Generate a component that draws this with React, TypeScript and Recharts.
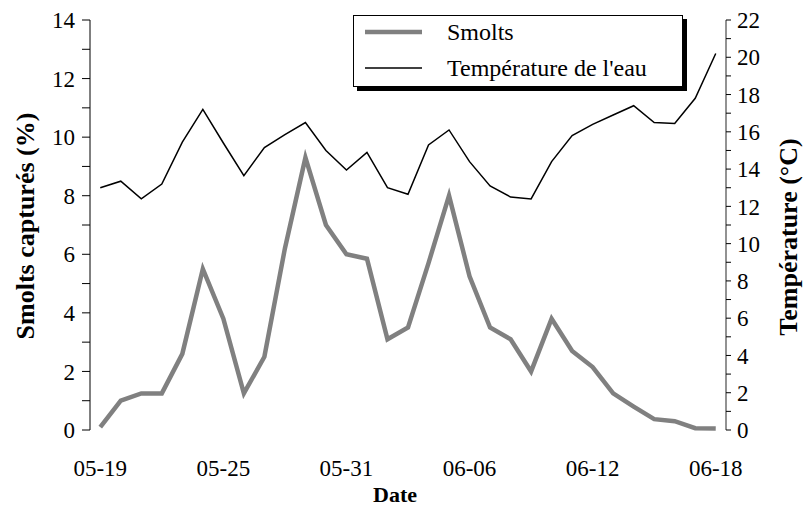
import React from 'react'
import { LineChart, Line, XAxis, YAxis, Legend } from 'recharts'

const dates = [
  '05-19', '05-20', '05-21', '05-22', '05-23', '05-24', '05-25', '05-26',
  '05-27', '05-28', '05-29', '05-30', '05-31', '06-01', '06-02', '06-03',
  '06-04', '06-05', '06-06', '06-07', '06-08', '06-09', '06-10', '06-11',
  '06-12', '06-13', '06-14', '06-15', '06-16', '06-17', '06-18',
]
// % of smolts caught per day
const smolts = [
  0.1, 1.0, 1.25, 1.25, 2.6, 5.5, 3.8, 1.25, 2.5, 6.2, 9.3, 7.0, 6.0, 5.85, 3.1, 3.5,
  5.7, 8.0, 5.25, 3.5, 3.1, 2.0, 3.8, 2.7, 2.15, 1.25, 0.8, 0.37, 0.3, 0.06, 0.05,
]
// water temperature (°C)
const temperature = [
  13.0, 13.35, 12.4, 13.2, 15.45, 17.2, 15.4, 13.65, 15.15, 15.85, 16.5, 15.0, 13.95, 14.9, 13.0, 12.65,
  15.3, 16.1, 14.4, 13.1, 12.5, 12.4, 14.4, 15.8, 16.4, 16.9, 17.4, 16.5, 16.45, 17.8, 20.2,
]
const dateTicks = [0, 6, 12, 18, 24, 30]
const smoltTicks = [0, 1, 2, 3, 4, 5, 6, 7, 8, 9, 10, 11, 12, 13, 14]
const tempTicks = [0, 1, 2, 3, 4, 5, 6, 7, 8, 9, 10, 11, 12, 13, 14, 15, 16, 17, 18, 19, 20, 21, 22]

const data = dates.map((date, i) => ({ day: i, date, smolts: smolts[i], temp: temperature[i] }))
// tick marks sit between the days, Excel style
const dayEdges = [...dates.map((_, i) => i - 0.5), dates.length - 0.5]
const dayDomain = [-0.5, dates.length - 0.5]

const SERIF = 'Liberation Serif, Tinos, DejaVu Serif, Noto Serif, Times New Roman, serif'
const tickFont = { fontFamily: SERIF, fontSize: 23, fill: '#000' }
const evenOnly = (v: number) => (v % 2 === 0 ? String(v) : '')

function sideTitle(text: string, fromLeft: boolean, inset: number, shift: number, size: number) {
  return (props: any) => {
    const { x, y, width, height } = props.viewBox
    const cx = fromLeft ? x + inset : x + width - inset
    const cy = y + height / 2 + shift
    return (
      <text
        x={cx} y={cy} transform={`rotate(-90 ${cx} ${cy})`}
        textAnchor="middle" dominantBaseline="central"
        style={{ fontFamily: SERIF, fontWeight: 'bold', fontSize: size }} fill="#000"
      >
        {text}
      </text>
    )
  }
}

function dateTitle(props: any) {
  const { x, y, width, height } = props.viewBox
  return (
    <text x={x + width / 2 - 13} y={y + height - 6} textAnchor="middle"
      style={{ fontFamily: SERIF, fontWeight: 'bold', fontSize: 22 }} fill="#000">
      Date
    </text>
  )
}

function LegendBox({ payload }: any) {
  return (
    <div style={{
      width: 328, height: 70, border: '1px solid #000', background: '#fff',
      boxShadow: '4px 4px 0 #000', fontFamily: SERIF, fontSize: 24, color: '#000',
    }}>
      <div style={{ marginTop: -2 }}>
        {(payload || []).map((entry: any) => (
          <div key={entry.value} style={{ height: 36, display: 'flex', alignItems: 'center' }}>
            <svg width={57} height={10} style={{ marginLeft: 11, marginRight: 25 }}>
              <line x1={0} x2={57} y1={5} y2={5} stroke={entry.color}
                strokeWidth={entry.payload?.strokeWidth ?? 2} />
            </svg>
            <span style={{ whiteSpace: 'nowrap' }}>{entry.value}</span>
          </div>
        ))}
      </div>
    </div>
  )
}

export default function App() {
  return (
    <div style={{ position: 'absolute', left: 0, top: 0, background: '#fff', fontFamily: SERIF }}>
      <LineChart width={807} height={508} data={data} margin={{ top: 20, right: 0, bottom: 0, left: 0 }}>
        <XAxis
          xAxisId="edges" dataKey="day" type="number" domain={dayDomain} ticks={dayEdges}
          interval={0} height={0} tickSize={5} tickFormatter={() => ''}
          axisLine={{ stroke: '#6e6e6e', strokeWidth: 1.5 }} tickLine={{ stroke: '#000' }}
        />
        <XAxis
          xAxisId="days" dataKey="day" type="number" domain={dayDomain} ticks={dateTicks}
          interval={0} height={78} tickSize={0} tickMargin={30} axisLine={false} tickLine={false}
          tickFormatter={(i: number) => dates[i]} tick={tickFont} label={dateTitle}
        />
        <YAxis
          yAxisId="left" domain={[0, 14]} ticks={smoltTicks} interval={0} width={90}
          tickSize={8} tickMargin={7} tickFormatter={evenOnly} tick={tickFont}
          axisLine={{ stroke: '#000' }} tickLine={{ stroke: '#000' }}
          label={sideTitle('Smolts capturés (%)', true, 25, 1, 26)}
        />
        <YAxis
          yAxisId="right" orientation="right" domain={[0, 22]} ticks={tempTicks} interval={0} width={81}
          tickSize={5} tickMargin={6} tickFormatter={evenOnly} tick={tickFont}
          axisLine={{ stroke: '#6e6e6e', strokeWidth: 1.5 }} tickLine={{ stroke: '#000' }}
          label={sideTitle('Température (°C)', false, 19, 12, 26)}
        />
        <Legend
          content={<LegendBox />} verticalAlign="middle" align="center"
          wrapperStyle={{ left: 353, top: 15, width: 'auto', height: 'auto' }}
        />
        <Line
          xAxisId="edges" yAxisId="left" dataKey="smolts" name="Smolts" type="linear"
          stroke="#808080" strokeWidth={4.5} strokeLinejoin="miter" dot={false} isAnimationActive={false}
        />
        <Line
          xAxisId="days" yAxisId="right" dataKey="temp" name="Température de l'eau" type="linear"
          stroke="#000" strokeWidth={1.5} dot={false} isAnimationActive={false}
        />
      </LineChart>
    </div>
  )
}
